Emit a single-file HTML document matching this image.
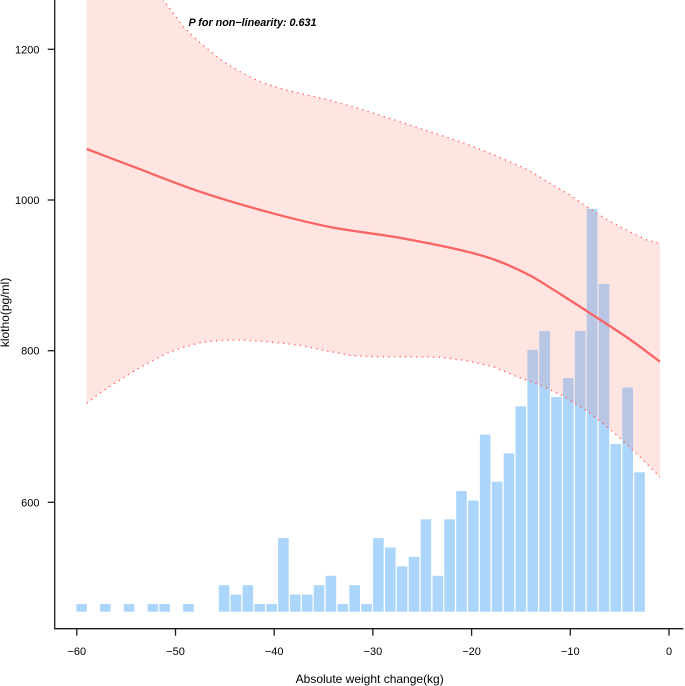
<!DOCTYPE html>
<html>
<head>
<meta charset="utf-8">
<style>
html,body{margin:0;padding:0;background:#fff;}
svg{display:block;}
text{font-family:"Liberation Sans",Arial,sans-serif;fill:#000;}
</style>
</head>
<body>
<svg width="685" height="686" viewBox="0 0 685 686" xmlns="http://www.w3.org/2000/svg">
<defs>
<clipPath id="rib">
<path d="M86.7,-150 L110,-95 L130,-55 L150,-20 L163.3,0 L173.3,13.3 L183.3,26.7 L193.3,36.7 L206.7,48.3 L223.3,61.7 L240,71.7 L260,81.7 L283.3,89.3 L306.7,95 L326.7,99.3 L350,106 L363.3,110 L396.7,120.7 L430,131.7 L463.3,142.7 L496.7,156 L528.3,170 L550,183.3 L570,195 L586.7,206.7 L596.7,213.3 L613.3,223.3 L630,231.7 L646.7,240 L660,243.3 L660,477.3 L640,457 L620,438 L606.7,426.7 L590,413 L563.3,396 L540,385 L516.7,376.7 L493.3,366.7 L466.7,360.7 L440,357.3 L406.7,356.8 L373,356.7 L350,355.5 L325,350.5 L300,345.3 L283.3,343.3 L266.7,341.7 L250,340.5 L233.3,340 L216.7,340.7 L200,342.7 L183.3,347.5 L166.7,353.3 L150,362 L133,371.7 L116.7,382 L100,393 L86.7,403.3 Z"/>
</clipPath>
<g id="bars">
<rect x="76.3" y="604.0" width="10.6" height="7.7"/>
<rect x="100.0" y="604.0" width="10.6" height="7.7"/>
<rect x="123.8" y="604.0" width="10.6" height="7.7"/>
<rect x="147.5" y="604.0" width="10.6" height="7.7"/>
<rect x="159.4" y="604.0" width="10.6" height="7.7"/>
<rect x="183.1" y="604.0" width="10.6" height="7.7"/>
<rect x="218.8" y="585.2" width="10.6" height="26.5"/>
<rect x="230.6" y="594.6" width="10.6" height="17.1"/>
<rect x="242.5" y="585.2" width="10.6" height="26.5"/>
<rect x="254.4" y="604.0" width="10.6" height="7.7"/>
<rect x="266.3" y="604.0" width="10.6" height="7.7"/>
<rect x="278.1" y="538.1" width="10.6" height="73.6"/>
<rect x="290.0" y="594.6" width="10.6" height="17.1"/>
<rect x="301.9" y="594.6" width="10.6" height="17.1"/>
<rect x="313.7" y="585.2" width="10.6" height="26.5"/>
<rect x="325.6" y="575.8" width="10.6" height="35.9"/>
<rect x="337.5" y="604.0" width="10.6" height="7.7"/>
<rect x="349.4" y="585.2" width="10.6" height="26.5"/>
<rect x="361.2" y="604.0" width="10.6" height="7.7"/>
<rect x="373.1" y="538.1" width="10.6" height="73.6"/>
<rect x="385.0" y="547.5" width="10.6" height="64.2"/>
<rect x="396.8" y="566.4" width="10.6" height="45.3"/>
<rect x="408.7" y="556.9" width="10.6" height="54.8"/>
<rect x="420.6" y="519.3" width="10.6" height="92.4"/>
<rect x="432.5" y="575.8" width="10.6" height="35.9"/>
<rect x="444.3" y="519.3" width="10.6" height="92.4"/>
<rect x="456.2" y="491.1" width="10.6" height="120.6"/>
<rect x="468.1" y="500.5" width="10.6" height="111.2"/>
<rect x="479.9" y="434.6" width="10.6" height="177.1"/>
<rect x="491.8" y="481.7" width="10.6" height="130.0"/>
<rect x="503.7" y="453.4" width="10.6" height="158.3"/>
<rect x="515.5" y="406.4" width="10.6" height="205.3"/>
<rect x="527.4" y="349.9" width="10.6" height="261.8"/>
<rect x="539.3" y="331.1" width="10.6" height="280.6"/>
<rect x="551.2" y="397.0" width="10.6" height="214.7"/>
<rect x="563.0" y="378.2" width="10.6" height="233.5"/>
<rect x="574.9" y="331.1" width="10.6" height="280.6"/>
<rect x="586.8" y="208.8" width="10.6" height="402.9"/>
<rect x="598.7" y="284.0" width="10.6" height="327.7"/>
<rect x="610.5" y="444.0" width="10.6" height="167.7"/>
<rect x="622.4" y="387.6" width="10.6" height="224.1"/>
<rect x="634.3" y="472.3" width="10.6" height="139.4"/>
</g>
</defs>

<rect x="0" y="-200" width="685" height="900" fill="#ffe5e2" clip-path="url(#rib)"/>

<use href="#bars" fill="#abd5fb"/>
<use href="#bars" fill="#b9c6e3" clip-path="url(#rib)"/>

<polyline fill="none" stroke="#ff5a5a" stroke-width="1.3" stroke-dasharray="1.3 4.3" points="86.7,-150 110,-95 130,-55 150,-20 163.3,0 173.3,13.3 183.3,26.7 193.3,36.7 206.7,48.3 223.3,61.7 240,71.7 260,81.7 283.3,89.3 306.7,95 326.7,99.3 350,106 363.3,110 396.7,120.7 430,131.7 463.3,142.7 496.7,156 528.3,170 550,183.3 570,195 586.7,206.7 596.7,213.3 613.3,223.3 630,231.7 646.7,240 660,243.3"/>
<polyline fill="none" stroke="#ff5a5a" stroke-width="1.3" stroke-dasharray="1.3 4.3" points="86.7,403.3 100,393 116.7,382 133,371.7 150,362 166.7,353.3 183.3,347.5 200,342.7 216.7,340.7 233.3,340 250,340.5 266.7,341.7 283.3,343.3 300,345.3 325,350.5 350,355.5 373,356.7 406.7,356.8 440,357.3 466.7,360.7 493.3,366.7 516.7,376.7 540,385 563.3,396 590,413 606.7,426.7 620,438 640,457 660,477.3"/>

<path fill="none" stroke="#f96464" stroke-width="2.3" stroke-linejoin="round" d="M86.7,149 C102.2,154.9 114.4,159.6 133.3,166.7 C152.2,173.8 177.8,184.2 200,191.7 C222.2,199.2 245,205.8 266.7,211.7 C288.4,217.6 308.3,222.7 330,227 C351.7,231.3 374.5,233.4 396.7,237.3 C418.9,241.3 441.1,245.6 463.3,250.7 C474.4,253.3 485.6,256.4 496.7,260.5 C507.8,264.6 518.9,269.6 530,275.5 C541.1,281.4 552.2,289 563.3,296 C574.4,303 585.6,310.3 596.7,317.5 C607.8,324.8 619.5,332.1 630,339.5 C640.6,346.9 650,354.3 660,361.7"/>

<g stroke="#1a1a1a" stroke-width="1.3" fill="none">
<line x1="54.7" y1="0" x2="54.7" y2="629.3"/>
<line x1="54.1" y1="628.7" x2="683.3" y2="628.7"/>
<line x1="47.7" y1="49.3" x2="54.7" y2="49.3"/>
<line x1="47.7" y1="200" x2="54.7" y2="200"/>
<line x1="47.7" y1="350.7" x2="54.7" y2="350.7"/>
<line x1="47.7" y1="502.3" x2="54.7" y2="502.3"/>
<line x1="76.8" y1="628.7" x2="76.8" y2="635.7"/>
<line x1="175.5" y1="628.7" x2="175.5" y2="635.7"/>
<line x1="274.2" y1="628.7" x2="274.2" y2="635.7"/>
<line x1="372.9" y1="628.7" x2="372.9" y2="635.7"/>
<line x1="471.6" y1="628.7" x2="471.6" y2="635.7"/>
<line x1="570.3" y1="628.7" x2="570.3" y2="635.7"/>
<line x1="669" y1="628.7" x2="669" y2="635.7"/>
</g>

<g font-size="11" text-anchor="end">
<text x="39.5" y="53.3">1200</text>
<text x="39.5" y="204">1000</text>
<text x="39.5" y="354.7">800</text>
<text x="39.5" y="506.3">600</text>
</g>
<g font-size="11" text-anchor="middle">
<text x="76.8" y="655">−60</text>
<text x="175.5" y="655">−50</text>
<text x="274.2" y="655">−40</text>
<text x="372.9" y="655">−30</text>
<text x="471.6" y="655">−20</text>
<text x="570.3" y="655">−10</text>
<text x="669" y="655">0</text>
</g>

<text x="369.7" y="683" font-size="12" text-anchor="middle">Absolute weight change(kg)</text>
<text transform="translate(9,312.5) rotate(-90)" font-size="12" text-anchor="middle">klotho(pg/ml)</text>

<text x="188.5" y="26" font-size="10.7" font-weight="bold" font-style="italic" textLength="128" lengthAdjust="spacingAndGlyphs">P for non−linearity: 0.631</text>
</svg>
</body>
</html>
